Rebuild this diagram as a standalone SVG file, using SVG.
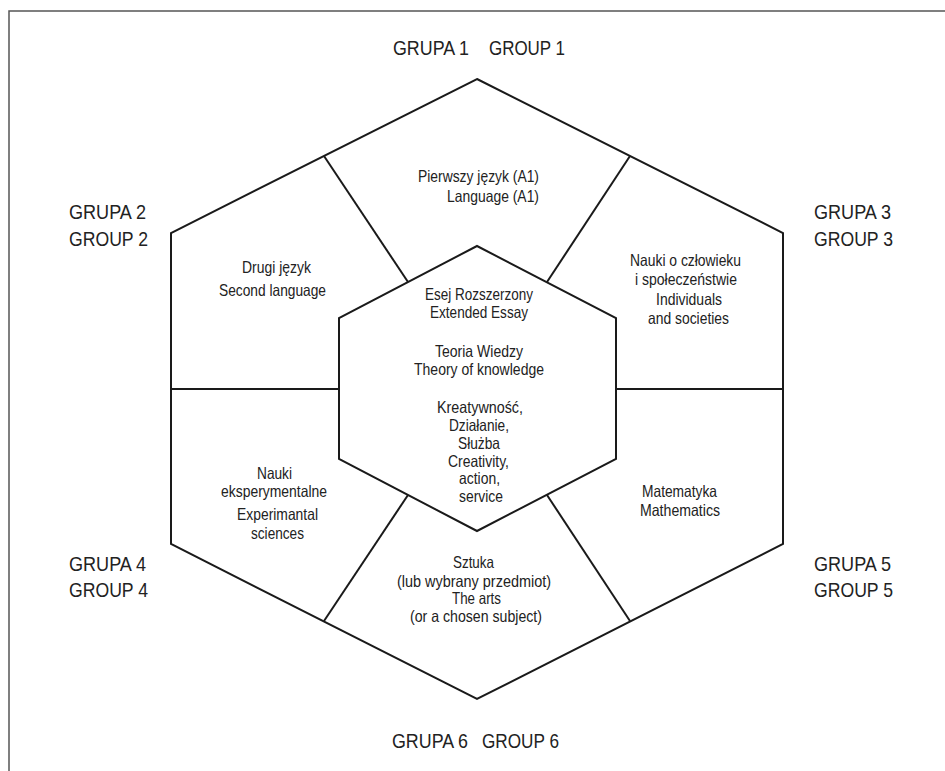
<svg xmlns="http://www.w3.org/2000/svg" width="945" height="771" viewBox="0 0 945 771">
<style>
.t{font-family:"Liberation Sans Narrow","Liberation Sans",Arial,sans-serif;fill:#222;}
.s{font-size:16.5px;}
.g{font-size:21px;}
.hex{fill:none;stroke:#1a1a1a;stroke-width:2;stroke-linejoin:miter;}
.sp{stroke:#1a1a1a;stroke-width:2;}
.frame{fill:none;stroke:#555;stroke-width:1.5;}
</style>
<rect width="945" height="771" fill="#fff"/>
<path class="frame" d="M9,771 V11 H945"/>

<g id="outer-hexagon"><polygon class="hex" points="477,79 783,233 783,544 477,699 171,544 171,233"/></g>

<g id="connectors">
<line class="sp" x1="408" y1="282" x2="324" y2="156"/>
<line class="sp" x1="547" y1="282" x2="630" y2="156"/>
<line class="sp" x1="339" y1="389" x2="171" y2="389"/>
<line class="sp" x1="616" y1="389" x2="783" y2="389"/>
<line class="sp" x1="408" y1="495" x2="324" y2="621"/>
<line class="sp" x1="547" y1="495" x2="630" y2="621"/>
</g>

<g id="core">
<polygon class="hex" points="477,246 616,318 616,459 477,531 339,459 339,318"/>
<text class="t s" x="425" y="300" textLength="108" lengthAdjust="spacingAndGlyphs">Esej Rozszerzony</text>
<text class="t s" x="430" y="318" textLength="98" lengthAdjust="spacingAndGlyphs">Extended Essay</text>
<text class="t s" x="435" y="357" textLength="88" lengthAdjust="spacingAndGlyphs">Teoria Wiedzy</text>
<text class="t s" x="414" y="375" textLength="130" lengthAdjust="spacingAndGlyphs">Theory of knowledge</text>
<text class="t s" x="437" y="413" textLength="86" lengthAdjust="spacingAndGlyphs">Kreatywność,</text>
<text class="t s" x="449" y="431" textLength="60" lengthAdjust="spacingAndGlyphs">Działanie,</text>
<text class="t s" x="458" y="449" textLength="42" lengthAdjust="spacingAndGlyphs">Służba</text>
<text class="t s" x="448" y="467" textLength="61" lengthAdjust="spacingAndGlyphs">Creativity,</text>
<text class="t s" x="459" y="484" textLength="41" lengthAdjust="spacingAndGlyphs">action,</text>
<text class="t s" x="459" y="502" textLength="44" lengthAdjust="spacingAndGlyphs">service</text>
</g>

<g id="sector-1">
<text class="t s" x="418" y="182" textLength="121" lengthAdjust="spacingAndGlyphs">Pierwszy język (A1)</text>
<text class="t s" x="447" y="202" textLength="92" lengthAdjust="spacingAndGlyphs">Language (A1)</text>
</g>
<g id="sector-2">
<text class="t s" x="242" y="273" textLength="69" lengthAdjust="spacingAndGlyphs">Drugi język</text>
<text class="t s" x="219" y="296" textLength="107" lengthAdjust="spacingAndGlyphs">Second language</text>
</g>
<g id="sector-3">
<text class="t s" x="630" y="266" textLength="111" lengthAdjust="spacingAndGlyphs">Nauki o człowieku</text>
<text class="t s" x="635" y="285" textLength="102" lengthAdjust="spacingAndGlyphs">i społeczeństwie</text>
<text class="t s" x="656" y="305" textLength="66" lengthAdjust="spacingAndGlyphs">Individuals</text>
<text class="t s" x="648" y="324" textLength="81" lengthAdjust="spacingAndGlyphs">and societies</text>
</g>
<g id="sector-4">
<text class="t s" x="257" y="479" textLength="35" lengthAdjust="spacingAndGlyphs">Nauki</text>
<text class="t s" x="221" y="497" textLength="106" lengthAdjust="spacingAndGlyphs">eksperymentalne</text>
<text class="t s" x="237" y="520" textLength="81" lengthAdjust="spacingAndGlyphs">Experimantal</text>
<text class="t s" x="251" y="539" textLength="53" lengthAdjust="spacingAndGlyphs">sciences</text>
</g>
<g id="sector-5">
<text class="t s" x="642" y="497" textLength="75" lengthAdjust="spacingAndGlyphs">Matematyka</text>
<text class="t s" x="640" y="516" textLength="80" lengthAdjust="spacingAndGlyphs">Mathematics</text>
</g>
<g id="sector-6">
<text class="t s" x="453" y="568" textLength="41" lengthAdjust="spacingAndGlyphs">Sztuka</text>
<text class="t s" x="397" y="587" textLength="154" lengthAdjust="spacingAndGlyphs">(lub wybrany przedmiot)</text>
<text class="t s" x="452" y="604" textLength="49" lengthAdjust="spacingAndGlyphs">The arts</text>
<text class="t s" x="410" y="622" textLength="132" lengthAdjust="spacingAndGlyphs">(or a chosen subject)</text>
</g>

<g id="label-group-1">
<text class="t g" x="393" y="55" textLength="76" lengthAdjust="spacingAndGlyphs">GRUPA 1</text>
<text class="t g" x="489" y="55" textLength="76" lengthAdjust="spacingAndGlyphs">GROUP 1</text>
</g>
<g id="label-group-2">
<text class="t g" x="69" y="219" textLength="77" lengthAdjust="spacingAndGlyphs">GRUPA 2</text>
<text class="t g" x="69" y="246" textLength="79" lengthAdjust="spacingAndGlyphs">GROUP 2</text>
</g>
<g id="label-group-3">
<text class="t g" x="814" y="219" textLength="77" lengthAdjust="spacingAndGlyphs">GRUPA 3</text>
<text class="t g" x="814" y="246" textLength="79" lengthAdjust="spacingAndGlyphs">GROUP 3</text>
</g>
<g id="label-group-4">
<text class="t g" x="69" y="571" textLength="77" lengthAdjust="spacingAndGlyphs">GRUPA 4</text>
<text class="t g" x="69" y="597" textLength="79" lengthAdjust="spacingAndGlyphs">GROUP 4</text>
</g>
<g id="label-group-5">
<text class="t g" x="814" y="571" textLength="77" lengthAdjust="spacingAndGlyphs">GRUPA 5</text>
<text class="t g" x="814" y="597" textLength="79" lengthAdjust="spacingAndGlyphs">GROUP 5</text>
</g>
<g id="label-group-6">
<text class="t g" x="392" y="748" textLength="76" lengthAdjust="spacingAndGlyphs">GRUPA 6</text>
<text class="t g" x="482" y="748" textLength="77" lengthAdjust="spacingAndGlyphs">GROUP 6</text>
</g>
</svg>
